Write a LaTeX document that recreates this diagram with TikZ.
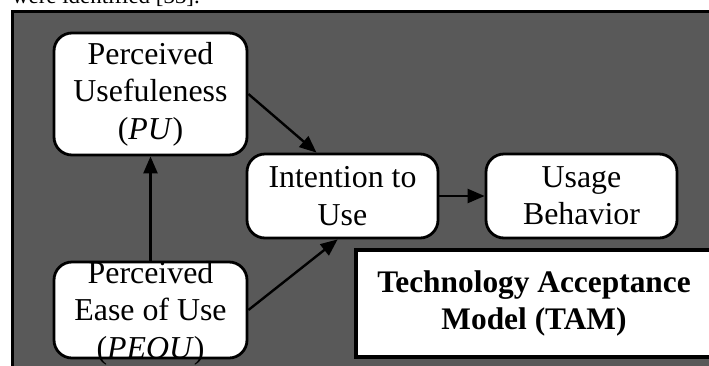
\documentclass[tikz,border=0pt]{standalone}
\usepackage{fontspec}
\setmainfont{Liberation Serif}
\usetikzlibrary{arrows.meta,calc}
\definecolor{bggray}{HTML}{595959}
\begin{document}
\begin{tikzpicture}[x=1bp,y=-1bp,
  box/.style={draw=black, line width=2.8bp, fill=white, rounded corners=18bp, inner sep=0pt},
  txt/.style={align=center, font=\fontsize{32}{37.5}\selectfont, inner sep=0pt},
  tamtxt/.style={align=center, font=\fontsize{31.5}{38}\selectfont\bfseries, inner sep=0pt},
  tambox/.style={draw=black, line width=3.5bp, fill=white, inner sep=0pt},
  arr/.style={line width=2.4bp, -{Triangle[length=17bp,width=14bp]}},
  toptxt/.style={font=\fontsize{23}{26}\selectfont, inner sep=0pt, anchor=base east}
]
\useasboundingbox (0,0) rectangle (709,365);
\clip (0,0) rectangle (709,365);
\node[toptxt] (top) at (200,3) {were identified [33].};
\draw[line width=3bp, fill=bggray] (12,11) rectangle (740,400);

\node[box, minimum width=193bp, minimum height=122bp] (pu) at (150.5,94) {};
\node[txt] (putxt) at (pu.center) {Perceived\\Usefuleness\\(\textit{PU})};

\node[box, minimum width=193bp, minimum height=96bp] (peou) at (150.5,310) {};
\node[txt] (peoutxt) at ([yshift=-3bp]peou.center) {Perceived\\Ease of Use\\(\textit{PEOU})};

\node[box, minimum width=191bp, minimum height=84bp] (int) at (342.5,196) {};
\node[txt] (inttxt) at (int.center) {Intention to\\Use};

\node[box, minimum width=191bp, minimum height=84bp] (use) at (581.5,196) {};
\node[txt] (usetxt) at (use.center) {Usage\\Behavior};

\node[tambox, minimum width=356bp, minimum height=107bp] (tam) at (534,303.5) {};
\node[tamtxt] (tamtxt) at (tam.center) {Technology Acceptance\\Model (TAM)};

\draw[arr] (peou.north) -- (pu.south);
\draw[arr] (pu.east) -- ($(int.north west)!0.366!(int.north east)$);
\draw[arr] (peou.east) -- ($(int.south west)!0.475!(int.south east)$);
\draw[arr] (int.east) -- (use.west);
\end{tikzpicture}
\end{document}
